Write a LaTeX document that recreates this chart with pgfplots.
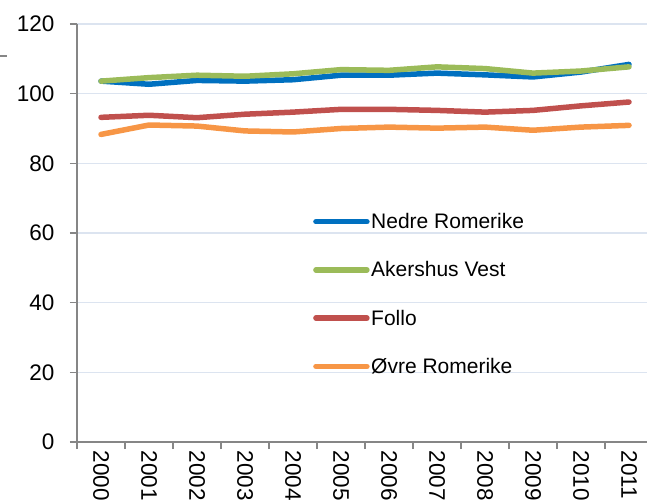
\documentclass[border=0pt]{standalone}
\usepackage{pgfplots}
\pgfplotsset{compat=1.18}
\usepackage{fontspec}
\setmainfont{Liberation Sans}
\definecolor{cblue}{HTML}{0070C0}
\definecolor{cgreen}{HTML}{9BBB59}
\definecolor{cred}{HTML}{C0504D}
\definecolor{corange}{HTML}{F79646}
\definecolor{gridc}{HTML}{DCE4F0}
\definecolor{axc}{HTML}{868686}
\begin{document}
\begin{tikzpicture}[x=1pt,y=1pt]
\path[use as bounding box, clip] (-77,-59) rectangle (570,442);
\draw[axc, line width=1.3pt] (-77,386) -- (-70,386);
\begin{axis}[
  at={(0,0)}, anchor=south west,
  scale only axis, width=570pt, height=418pt,
  xmin=-0.5, xmax=11.375, ymin=0, ymax=120,
  axis x line*=bottom, axis y line*=left,
  axis line style={axc, line width=1.3pt},
  ytick={0,20,...,120},
  xtick={-0.5,0.5,...,10.5}, xticklabels={},
  extra x ticks={0,1,...,11},
  extra x tick labels={2000,2001,2002,2003,2004,2005,2006,2007,2008,2009,2010,2011},
  extra x tick style={major tick length=0pt, grid=none},
  tick align=outside, major tick length=7pt,
  tick style={axc, line width=1.3pt},
  ymajorgrids, grid style={gridc, line width=1.2pt},
  /pgf/number format/assume math mode=true,
  ticklabel style={font=\fontsize{22.5}{22.5}\selectfont},
  yticklabel style={xshift=-12pt},
  xticklabel style={rotate=-90, anchor=west, xshift=5pt},
  legend style={draw=none, fill=none, inner sep=0pt, at={(0.414,0.551)}, anchor=north west,
    font=\fontsize{21}{21}\selectfont, row sep=28.5pt,
    nodes={inner sep=1.5pt}},
  legend cell align=left,
  legend image code/.code={\draw[#1, line cap=round] (0pt,0pt) -- (51pt,0pt);},
  every axis plot/.append style={line width=5.5pt, line join=round, line cap=round},
]
\addplot[cblue] coordinates {(0,103.6)(1,102.7)(2,103.8)(3,103.6)(4,104.0)(5,105.3)(6,105.3)(7,105.9)(8,105.4)(9,104.8)(10,106.2)(11,108.4)};
\addlegendentry{Nedre Romerike}
\addplot[cgreen] coordinates {(0,103.6)(1,104.6)(2,105.3)(3,105.0)(4,105.7)(5,106.9)(6,106.7)(7,107.7)(8,107.2)(9,105.9)(10,106.5)(11,107.7)};
\addlegendentry{Akershus Vest}
\addplot[cred] coordinates {(0,93.2)(1,93.8)(2,93.1)(3,94.1)(4,94.7)(5,95.5)(6,95.5)(7,95.2)(8,94.7)(9,95.2)(10,96.5)(11,97.6)};
\addlegendentry{Follo}
\addplot[corange] coordinates {(0,88.3)(1,91.0)(2,90.7)(3,89.3)(4,89.0)(5,90.0)(6,90.4)(7,90.1)(8,90.4)(9,89.5)(10,90.4)(11,90.9)};
\addlegendentry{Øvre Romerike}
\end{axis}
\end{tikzpicture}
\end{document}
